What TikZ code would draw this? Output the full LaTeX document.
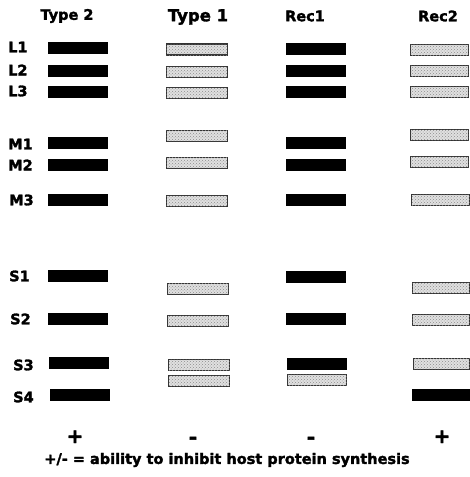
\documentclass[tikz,border=0pt]{standalone}
\usepackage{fontspec}
\setmainfont{DejaVu Sans}[BoldFeatures={FakeBold=2}]
\usetikzlibrary{patterns}
\begin{document}
\begin{tikzpicture}[x=1pt,y=-1pt,
  lab/.style={font=\bfseries\fontsize{14.5}{16}\selectfont, inner sep=0pt},
  biglab/.style={font=\bfseries\fontsize{16.5}{18}\selectfont, inner sep=0pt},
  rowlab/.style={lab, anchor=west},
  bar/.style={anchor=west, minimum height=11pt, inner sep=0pt},
  blk/.style={bar, fill=black, draw=black, line width=0.9pt, minimum width=59pt},
  dotbar/.style={bar, draw=black!80, line width=1.2pt, fill=black!12, minimum width=61pt,
    postaction={pattern=crosshatch dots, pattern color=black!45}},
  sign/.style={font=\bfseries\fontsize{20}{22}\selectfont, inner sep=0pt, anchor=base}
]
\useasboundingbox (0,0) rectangle (469,477);
% column headings
\node[lab] (hT2) at (67,16) {Type 2};
\node[biglab] (hT1) at (198,17) {Type 1};
\node[lab] (hR1) at (305,16) {Rec1};
\node[lab] (hR2) at (438,16) {Rec2};
% row labels
\node[rowlab] (lL1) at (8,47) {L1};
\node[rowlab] (lL2) at (8,70) {L2};
\node[rowlab] (lL3) at (8,91) {L3};
\node[rowlab] (lM1) at (8,144) {M1};
\node[rowlab] (lM2) at (8,165) {M2};
\node[rowlab] (lM3) at (9,200) {M3};
\node[rowlab] (lS1) at (9,276) {S1};
\node[rowlab] (lS2) at (10,319) {S2};
\node[rowlab] (lS3) at (13,365) {S3};
\node[rowlab] (lS4) at (13,397) {S4};
% Type 2 column
\node[blk] (aL1) at (48,48) {};
\node[blk] (aL2) at (48,71) {};
\node[blk] (aL3) at (48,92) {};
\node[blk] (aM1) at (48,143) {};
\node[blk] (aM2) at (48,165) {};
\node[blk] (aM3) at (48,200) {};
\node[blk] (aS1) at (48,276) {};
\node[blk] (aS2) at (48,319) {};
\node[blk] (aS3) at (49,363) {};
\node[blk] (aS4) at (50,395) {};
% Type 1 column
\node[dotbar] (bL1) at (166,49.5) {};
\node[dotbar] (bL2) at (166,72) {};
\node[dotbar] (bL3) at (166,93) {};
\node[dotbar] (bM1) at (166,136) {};
\node[dotbar] (bM2) at (166,163) {};
\node[dotbar] (bM3) at (166,201) {};
\node[dotbar] (bS1) at (167,289) {};
\node[dotbar] (bS2) at (167,321) {};
\node[dotbar] (bS3) at (168,365) {};
\node[dotbar] (bS4) at (168,381) {};
% Rec1 column
\node[blk] (cL1) at (286,49) {};
\node[blk] (cL2) at (286,71) {};
\node[blk] (cL3) at (286,92) {};
\node[blk] (cM1) at (286,143) {};
\node[blk] (cM2) at (286,165) {};
\node[blk] (cM3) at (286,200) {};
\node[blk] (cS1) at (286,277) {};
\node[blk] (cS2) at (286,319) {};
\node[blk] (cS3) at (287,364) {};
\node[dotbar, minimum width=59pt] (cS4) at (287,380) {};
% Rec2 column
\node[dotbar, minimum width=58pt] (dL1) at (410,50) {};
\node[dotbar, minimum width=58pt] (dL2) at (410,71) {};
\node[dotbar, minimum width=58pt] (dL3) at (410,92) {};
\node[dotbar, minimum width=58pt] (dM1) at (410,135) {};
\node[dotbar, minimum width=58pt] (dM2) at (410,162) {};
\node[dotbar, minimum width=58pt] (dM3) at (411,200) {};
\node[dotbar, minimum width=57pt] (dS1) at (412,288) {};
\node[dotbar, minimum width=57pt] (dS2) at (412,320) {};
\node[dotbar, minimum width=56pt] (dS3) at (413,364) {};
\node[blk, minimum width=57pt] (dS4) at (412,395) {};
% signs
\node[sign] (p1) at (75,443) {+};
\node[sign] (m1) at (193,444) {-};
\node[sign] (m2) at (311,444) {-};
\node[sign] (p2) at (442,443) {+};
% caption
\node[lab] (cap) at (227,460) {+/- = ability to inhibit host protein synthesis};
\end{tikzpicture}
\end{document}
